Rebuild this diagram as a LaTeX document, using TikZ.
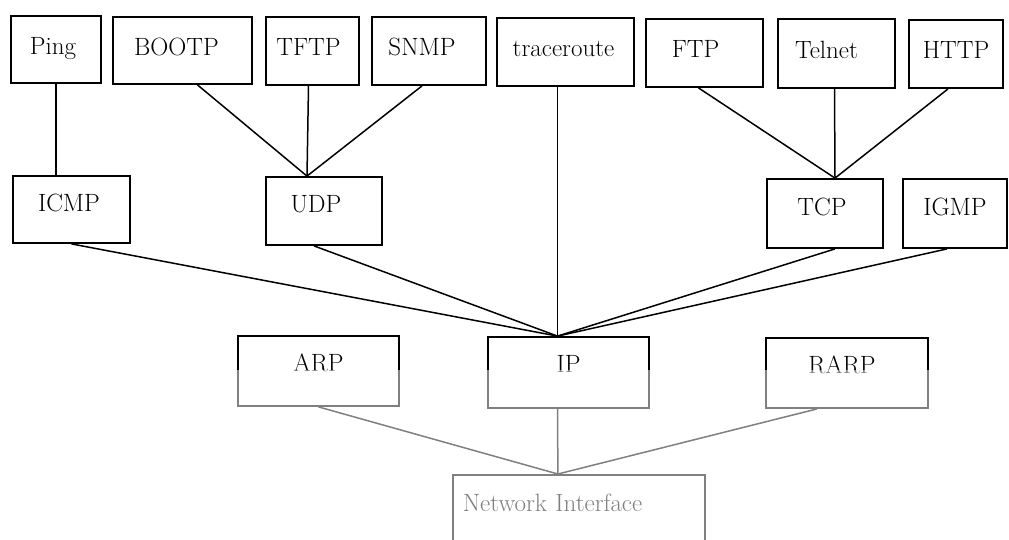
\documentclass[tikz,border=0pt]{standalone}
\usetikzlibrary{positioning}
% shift a box label to the left by half of the given amount
\newcommand\leftby[2]{\hspace*{-#1}#2}
\begin{document}
\begin{tikzpicture}[x=1pt, y=-1pt,
  box/.style={draw=black, line width=1.8pt, rectangle, inner sep=0pt,
    font=\fontsize{25}{29}\selectfont, text height=17pt},
  rowA/.style={box, text depth=8pt},
  rowB/.style={box, text depth=14pt},
  rowC/.style={box, text depth=17pt},
  link/.style={draw=black, line width=1.5pt}]
\clip (0,0) rectangle (1009,539);
\fill[white] (0,0) rectangle (1009,539);

% application layer
\node[rowA, minimum width=90pt,  minimum height=67pt] (ping)   at (56,49.5)   {\leftby{6pt}{Ping}};
\node[rowA, minimum width=139pt, minimum height=67pt] (bootp)  at (182.5,50.5) {\leftby{12pt}{BOOTP}};
\node[rowA, minimum width=93pt,  minimum height=68pt] (tftp)   at (312.5,51)  {\leftby{8pt}{TFTP}};
\node[rowA, minimum width=114pt, minimum height=68pt] (snmp)   at (429,51)    {\leftby{14pt}{SNMP}};
\node[rowA, minimum width=137pt, minimum height=68pt] (trace)  at (565.5,52)  {\leftby{4pt}{traceroute}};
\node[rowA, minimum width=117pt, minimum height=68pt] (ftp)    at (704.5,53)  {\leftby{18pt}{FTP}};
\node[rowA, minimum width=117pt, minimum height=69pt] (telnet) at (836.5,53.5) {\leftby{20pt}{Telnet}};
\node[rowA, minimum width=94pt,  minimum height=68pt] (http)   at (956,54)    {HTTP};

% transport layer
\node[rowB, minimum width=117pt, minimum height=67pt] (icmp) at (71.5,209.5) {\leftby{5pt}{ICMP}};
\node[rowB, minimum width=116pt, minimum height=68pt] (udp)  at (324,211)    {\leftby{16pt}{UDP}};
\node[rowB, minimum width=116pt, minimum height=69pt] (tcp)  at (825,213.5)  {\leftby{6pt}{TCP}};
\node[rowB, minimum width=104pt, minimum height=69pt] (igmp) at (955,213.5)  {IGMP};

% internet layer
\node[rowC, minimum width=161pt, minimum height=70pt] (arp)  at (318.5,371) {ARP};
\node[rowC, minimum width=161pt, minimum height=71pt] (ip)   at (568.5,372.5) {IP};
\node[rowC, minimum width=162pt, minimum height=70pt] (rarp) at (847,373)   {\leftby{10pt}{RARP}};

% link layer
\node[box, text depth=13pt, anchor=north west, minimum width=252pt, minimum height=70pt,
      text width=232pt, align=left] (ni) at (452,474) {Network Interface};

% junction points
\coordinate (udptop) at ([xshift=-17pt]udp.north);
\coordinate (tcptop) at ([xshift=10pt]tcp.north);
\coordinate (iptop)  at ([xshift=-11pt]ip.north);
\coordinate (ipbot)  at ([xshift=-11pt]ip.south);
\coordinate (nitop)  at ([xshift=-21pt]ni.north);

% application to transport
\draw[link] (ping.south) -- (ping.south |- icmp.north);
\draw[link] ([xshift=15pt]bootp.south) -- (udptop);
\draw[link] ([xshift=-4pt]tftp.south) -- (udptop);
\draw[link] ([xshift=-7pt]snmp.south) -- (udptop);
\draw[link] ([xshift=-6pt]ftp.south) -- (tcptop);
\draw[link] ([xshift=-2pt]telnet.south) -- (tcptop);
\draw[link] ([xshift=-8pt]http.south) -- (tcptop);
\draw[link, line width=1.8pt] ([xshift=-8pt]trace.south) -- (iptop);

% transport to IP
\draw[link] (icmp.south) -- (iptop);
\draw[link] ([xshift=-10pt]udp.south) -- (iptop);
\draw[link] ([xshift=10pt]tcp.south) -- (iptop);
\draw[link] ([xshift=-8pt]igmp.south) -- (iptop);

% internet layer to network interface
\draw[link] (arp.south) -- (nitop);
\draw[link] (ipbot) -- (nitop);
\draw[link] ([xshift=-30pt]rarp.south) -- (nitop);

% faded lower area
\fill[white, opacity=0.5] (195,370) rectangle (935,545);
\end{tikzpicture}
\end{document}
